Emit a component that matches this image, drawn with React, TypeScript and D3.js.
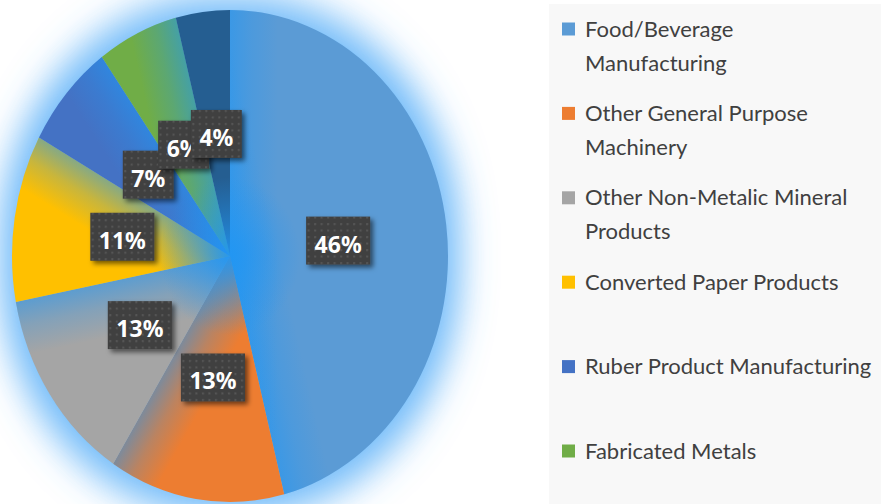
import React, { useEffect, useRef } from "react";
import * as d3 from "d3";

const categories = [
  "Food/Beverage Manufacturing",
  "Other General Purpose Machinery",
  "Other Non-Metalic Mineral Products",
  "Converted Paper Products",
  "Ruber Product Manufacturing",
  "Fabricated Metals",
  "Other",
];
const shares = [46, 13, 13, 11, 7, 6, 4];
const sliceColors = ["#5B9BD5", "#ED7D31", "#A5A5A5", "#FFC000", "#4472C4", "#70AD47", "#255E91"];
// legend is cut off after the sixth entry in the original
const legendLines = [
  ["Food/Beverage", "Manufacturing"],
  ["Other General Purpose", "Machinery"],
  ["Other Non-Metalic Mineral", "Products"],
  ["Converted Paper Products"],
  ["Ruber Product Manufacturing"],
  ["Fabricated Metals"],
];

const width = 881;
const height = 504;
const glowBlue = "#2196f3";

export default function App() {
  const ref = useRef<SVGSVGElement>(null);

  useEffect(() => {
    drawChart();
  }, []);

  function drawChart() {
    const svg = d3.select(ref.current);
    svg.selectAll("*").remove();

    const cx = 230;
    const cy = 256;
    const rx = 218;
    const ry = 246;
    const spill = 48; // width of the blue tint at each slice's trailing edge

    const defs = svg.append("defs");

    // halo around the whole pie
    const halo = defs.append("filter")
      .attr("id", "halo")
      .attr("filterUnits", "userSpaceOnUse")
      .attr("x", -340).attr("y", -340).attr("width", 680).attr("height", 680);
    halo.append("feMorphology").attr("in", "SourceAlpha").attr("operator", "dilate").attr("radius", 12).attr("result", "grown");
    halo.append("feGaussianBlur").attr("in", "grown").attr("stdDeviation", 17).attr("result", "soft");
    halo.append("feFlood").attr("flood-color", "#4aa8f7").attr("flood-opacity", 0.78);
    halo.append("feComposite").attr("in2", "soft").attr("operator", "in");

    const shadow = defs.append("filter")
      .attr("id", "boxShadow")
      .attr("x", "-30%").attr("y", "-30%").attr("width", "170%").attr("height", "170%");
    shadow.append("feDropShadow")
      .attr("dx", 3).attr("dy", 3).attr("stdDeviation", 2.5)
      .attr("flood-color", "#000").attr("flood-opacity", 0.55);

    const dots = defs.append("pattern")
      .attr("id", "dots")
      .attr("patternUnits", "userSpaceOnUse")
      .attr("width", 6.5).attr("height", 6.5);
    dots.append("rect").attr("width", 6.5).attr("height", 6.5).attr("fill", "#404040");
    dots.append("rect").attr("x", 2).attr("y", 2).attr("width", 2).attr("height", 2).attr("fill", "#575757");

    const centerGlow = defs.append("radialGradient")
      .attr("id", "centerGlow")
      .attr("gradientUnits", "userSpaceOnUse")
      .attr("cx", 0).attr("cy", 0).attr("r", 70);
    centerGlow.append("stop").attr("offset", 0).attr("stop-color", glowBlue).attr("stop-opacity", 0.9);
    centerGlow.append("stop").attr("offset", 0.4).attr("stop-color", glowBlue).attr("stop-opacity", 0.5);
    centerGlow.append("stop").attr("offset", 1).attr("stop-color", glowBlue).attr("stop-opacity", 0);

    svg.append("rect").attr("width", width).attr("height", height).attr("fill", "#ffffff");

    // legend panel
    svg.append("rect")
      .attr("x", 549).attr("y", 4)
      .attr("width", width - 549).attr("height", height - 4)
      .attr("fill", "#f8f8f8");

    const pie = d3.pie<number>().sort(null).value((d) => d);
    const arcs = pie(shares);
    const arcGen = d3.arc<d3.PieArcDatum<number>>().innerRadius(0).outerRadius(rx);
    const fullArc = d3.arc()({ innerRadius: 0, outerRadius: rx, startAngle: 0, endAngle: 2 * Math.PI } as any) as string;

    const pieG = svg.append("g")
      .attr("transform", `translate(${cx},${cy}) scale(1,${ry / rx})`);

    pieG.append("path").attr("d", fullArc).attr("fill", "#000").attr("filter", "url(#halo)");

    // tint gradient running from an edge through the centre, into the slice along (dx, dy)
    const edgeGradient = (id: string, dx: number, dy: number) => {
      const lg = defs.append("linearGradient")
        .attr("id", id)
        .attr("gradientUnits", "userSpaceOnUse")
        .attr("x1", 0).attr("y1", 0)
        .attr("x2", dx * spill).attr("y2", dy * spill);
      lg.append("stop").attr("offset", 0).attr("stop-color", glowBlue).attr("stop-opacity", 0.55);
      lg.append("stop").attr("offset", 0.45).attr("stop-color", glowBlue).attr("stop-opacity", 0.25);
      lg.append("stop").attr("offset", 1).attr("stop-color", glowBlue).attr("stop-opacity", 0);
    };

    arcs.forEach((a, i) => {
      const d = arcGen(a) as string;
      pieG.append("path").attr("d", d).attr("fill", sliceColors[i]);
      // the last slice gets no tint at its trailing edge
      if (i < arcs.length - 1) {
        edgeGradient(`endTint${i}`, -Math.cos(a.endAngle), -Math.sin(a.endAngle));
        pieG.append("path").attr("d", d).attr("fill", `url(#endTint${i})`);
      }
      if (i === 0) {
        edgeGradient("startTint0", Math.cos(a.startAngle), Math.sin(a.startAngle));
        pieG.append("path").attr("d", d).attr("fill", "url(#startTint0)");
      }
    });

    pieG.append("path").attr("d", fullArc).attr("fill", "url(#centerGlow)");

    // data labels
    const labelArc = d3.arc<d3.PieArcDatum<number>>().innerRadius(rx * 0.5).outerRadius(rx * 0.5);
    arcs.forEach((a) => {
      const [lx, ly] = labelArc.centroid(a);
      const g = svg.append("g")
        .attr("transform", `translate(${cx + lx},${cy + ly * ry / rx})`);
      const box = g.append("rect")
        .attr("fill", "url(#dots)")
        .attr("filter", "url(#boxShadow)");
      const txt = g.append("text")
        .attr("text-anchor", "middle")
        .attr("y", 12)
        .attr("font-family", "'Noto Sans', sans-serif")
        .attr("font-weight", "bold")
        .attr("font-size", 23)
        .attr("fill", "#ffffff")
        .text(`${a.data}%`);
      const tw = (txt.node() as SVGTextElement).getComputedTextLength();
      box.attr("x", -(tw + 17) / 2).attr("y", -24).attr("width", tw + 17).attr("height", 48);
    });

    // legend
    const legendCats = categories.slice(0, legendLines.length);
    const legendY = d3.scalePoint<string>().domain(legendCats).range([29, 451]);

    legendCats.forEach((c, i) => {
      const y = legendY(c) as number;
      svg.append("rect")
        .attr("x", 562).attr("y", y - 6.5)
        .attr("width", 13).attr("height", 13)
        .attr("fill", sliceColors[i]);
      const t = svg.append("text")
        .attr("font-family", "Lato, sans-serif")
        .attr("font-size", 22)
        .attr("fill", "#404040");
      legendLines[i].forEach((line, j) => {
        t.append("tspan")
          .attr("x", 585)
          .attr("y", y + 7.5 + j * 34)
          .text(line);
      });
    });
  }

  return (
    <svg
      ref={ref}
      width={width}
      height={height}
      style={{ position: "absolute", left: 0, top: 0, display: "block" }}
    />
  );
}
